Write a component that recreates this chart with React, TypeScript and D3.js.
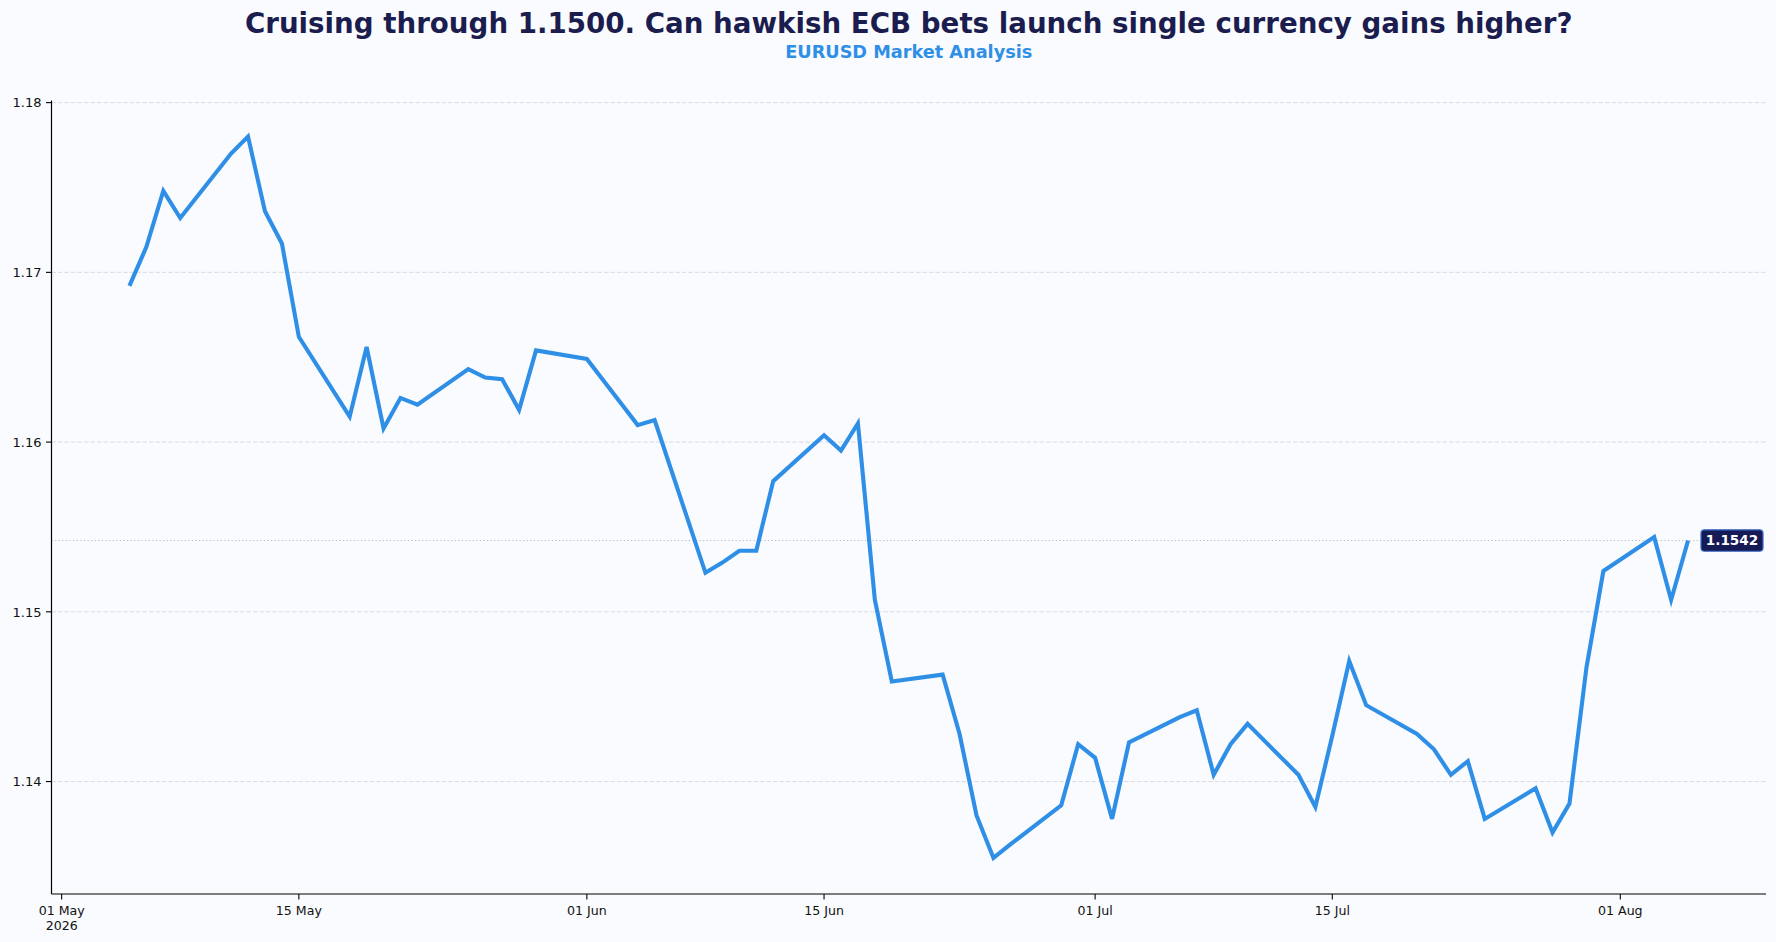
import React from "react"
import * as d3 from "d3"

// EURUSD daily closes (trading days only)
const dates = [
  "2026-05-05", "2026-05-06", "2026-05-07", "2026-05-08",
  "2026-05-11", "2026-05-12", "2026-05-13", "2026-05-14", "2026-05-15",
  "2026-05-18", "2026-05-19", "2026-05-20", "2026-05-21", "2026-05-22",
  "2026-05-25", "2026-05-26", "2026-05-27", "2026-05-28", "2026-05-29",
  "2026-06-01", "2026-06-02", "2026-06-03", "2026-06-04", "2026-06-05",
  "2026-06-08", "2026-06-09", "2026-06-10", "2026-06-11", "2026-06-12",
  "2026-06-15", "2026-06-16", "2026-06-17", "2026-06-18", "2026-06-19",
  "2026-06-22", "2026-06-23", "2026-06-24", "2026-06-25", "2026-06-26",
  "2026-06-29", "2026-06-30", "2026-07-01", "2026-07-02", "2026-07-03",
  "2026-07-06", "2026-07-07", "2026-07-08", "2026-07-09", "2026-07-10",
  "2026-07-13", "2026-07-14", "2026-07-15", "2026-07-16", "2026-07-17",
  "2026-07-20", "2026-07-21", "2026-07-22", "2026-07-23", "2026-07-24",
  "2026-07-27", "2026-07-28", "2026-07-29", "2026-07-30", "2026-07-31",
  "2026-08-03", "2026-08-04", "2026-08-05",
]

const closes = [
  1.1692, 1.1715, 1.1748, 1.1732,
  1.1770, 1.1780, 1.1736, 1.1717, 1.1662,
  1.1615, 1.1656, 1.1608, 1.1626, 1.1622,
  1.1643, 1.1638, 1.1637, 1.1619, 1.1654,
  1.1649, 1.1636, 1.1623, 1.1610, 1.1613,
  1.1523, 1.1529, 1.1536, 1.1536, 1.1577,
  1.1604, 1.1595, 1.1611, 1.1507, 1.1459,
  1.1463, 1.1428, 1.1380, 1.1355, 1.1363,
  1.1386, 1.1422, 1.1414, 1.1378, 1.1423,
  1.1438, 1.1442, 1.1404, 1.1422, 1.1434,
  1.1404, 1.1385, 1.1427, 1.1471, 1.1445,
  1.1428, 1.1419, 1.1404, 1.1412, 1.1378,
  1.1396, 1.1370, 1.1387, 1.1467, 1.1524,
  1.1544, 1.1507, 1.1542,
]

const yTicks = [1.14, 1.15, 1.16, 1.17, 1.18]
const xTicks = ["2026-05-01", "2026-05-15", "2026-06-01", "2026-06-15", "2026-07-01", "2026-07-15", "2026-08-01"]

const title = "Cruising through 1.1500. Can hawkish ECB bets launch single currency gains higher?"
const subtitle = "EURUSD Market Analysis"

const W = 1776
const H = 942
const margin = { left: 51.5, right: 10, top: 100.5, bottom: 48 }

const BG = "#f9fbfe"
const NAVY = "#1c1d4f"
const BLUE = "#2f8fe6"
const FONT = "'DejaVu Sans', sans-serif"

const parse = (s: string) => {
  const [y, m, d] = s.split("-").map(Number)
  return new Date(Date.UTC(y, m - 1, d))
}

const App: React.FC = () => {
  const data = dates.map((d, i) => ({ date: parse(d), value: closes[i] }))

  const x0 = margin.left
  const x1 = W - margin.right
  const y0 = H - margin.bottom
  const y1 = margin.top

  // matplotlib-like 5% padding on both axes
  const tExt = d3.extent(data, d => +d.date) as [number, number]
  const tPad = (tExt[1] - tExt[0]) * 0.05
  const xScale = d3.scaleUtc()
    .domain([new Date(tExt[0] - tPad), new Date(tExt[1] + tPad)])
    .range([x0, x1])

  const vExt = d3.extent(data, d => d.value) as [number, number]
  const vPad = (vExt[1] - vExt[0]) * 0.05
  const yScale = d3.scaleLinear()
    .domain([vExt[0] - vPad, vExt[1] + vPad])
    .range([y0, y1])

  const line = d3.line<{ date: Date; value: number }>()
    .x(d => xScale(d.date))
    .y(d => yScale(d.value))

  const last = data[data.length - 1]
  const lastY = yScale(last.value)
  const boxX = 1701
  const boxW = 62
  const boxH = 21.4

  const fmtDay = d3.utcFormat("%d %b")

  return (
    <>
      <style>{`body{margin:0;background:${BG}}`}</style>
      <svg width={W} height={H} style={{ display: "block", background: BG }} fontFamily={FONT}>
        <rect x={0} y={0} width={W} height={H} fill={BG} />

        <text x={(x0 + x1) / 2} y={32.7} textAnchor="middle" fontSize={27.7} fontWeight="bold" fill={NAVY}>
          {title}
        </text>
        <text x={(x0 + x1) / 2} y={58.3} textAnchor="middle" fontSize={17.7} fontWeight="bold" fill={BLUE}>
          {subtitle}
        </text>

        {/* grid */}
        {yTicks.map(t => (
          <line key={t} x1={x0} x2={x1} y1={yScale(t)} y2={yScale(t)}
            stroke="#d4d8e0" strokeWidth={0.9} strokeDasharray="4.5,2" />
        ))}

        {/* last value reference */}
        <line x1={x0} x2={boxX} y1={lastY} y2={lastY}
          stroke="#b4b8c0" strokeWidth={1} strokeDasharray="1.2,2.4" />

        <path d={line(data) ?? ""} fill="none" stroke={BLUE} strokeWidth={4.1}
          strokeLinejoin="miter" strokeLinecap="butt" />

        {/* y axis */}
        <line x1={x0} x2={x0} y1={y1} y2={y0} stroke="#000" strokeWidth={1.2} />
        {yTicks.map(t => (
          <g key={t} transform={`translate(0,${yScale(t)})`}>
            <line x1={x0 - 5.5} x2={x0} stroke="#000" strokeWidth={1.1} />
            <text x={x0 - 10} dy="0.36em" textAnchor="end" fontSize={13} fill="#111">
              {t.toFixed(2)}
            </text>
          </g>
        ))}

        {/* x axis */}
        <line x1={x0} x2={x1} y1={y0} y2={y0} stroke="#000" strokeWidth={1.2} />
        {xTicks.map((s, i) => {
          const tx = xScale(parse(s))
          return (
            <g key={s} transform={`translate(${tx},0)`}>
              <line y1={y0} y2={y0 + 5.5} stroke="#000" strokeWidth={1.1} />
              <text y={y0 + 21} textAnchor="middle" fontSize={12.6} fill="#111">
                {fmtDay(parse(s))}
              </text>
              {i === 0 && (
                <text y={y0 + 36} textAnchor="middle" fontSize={12.6} fill="#111">2026</text>
              )}
            </g>
          )
        })}

        {/* last value badge */}
        <rect x={boxX} y={lastY - boxH / 2} width={boxW} height={boxH} rx={3.5}
          fill="#161a55" stroke="#3a6cc8" strokeWidth={1.2} />
        <text x={boxX + boxW / 2} y={lastY} dy="0.36em" textAnchor="middle"
          fontSize={13.6} fontWeight="bold" fill="#fff">
          {last.value.toFixed(4)}
        </text>
      </svg>
    </>
  )
}

export default App
